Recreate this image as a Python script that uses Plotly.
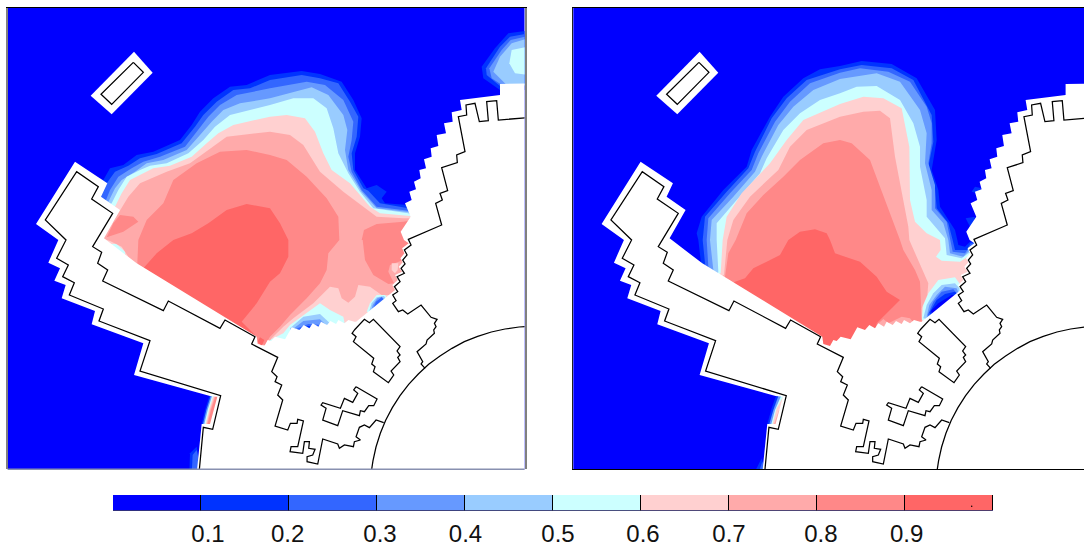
import plotly.graph_objects as go

def at(ox, oy, pts):
    return [(x / 3 + ox, y / 3 + oy) for x, y in pts]
def z1(p): return at(0, 0, p)
def z2(p): return at(270, 0, p)
def z3(p): return at(0, 240, p)
def z4(p): return at(270, 240, p)
def z5(p): return at(4.4, 0, p)
def z6(p): return at(254.4, 0, p)
def z7(p): return at(4.4, 240, p)
def z8(p): return at(254.4, 240, p)

# colour scale
BOUNDS = [0.05, 0.15, 0.25, 0.35, 0.45, 0.55, 0.65, 0.75, 0.85, 0.95]
COLORS = ["#0000FF", "#0033FF", "#3366FF", "#6699FF", "#99CCFF", "#CCFFFF", "#FFD0D0", "#FFAAAA", "#FF8888", "#FF6666"]
TICK_TEXT = ["0.1", "0.2", "0.3", "0.4", "0.5", "0.6", "0.7", "0.8", "0.9"]
TICK_POS = [0.108, 0.1985, 0.3034, 0.4006, 0.5057, 0.6023, 0.700, 0.8045, 0.9019]

UNDER_L = [(420, 240), (400, 300), (365, 335), (262, 352), (130, 272), (100, 250), (95, 215)]
UNDER_R = [(400, 300), (365, 335), (262, 352), (170, 300)]

# ---- left panel contours
L1 = z1([(290,530),(310,540),(330,505),(370,495),(410,465),(460,455),(540,420),(575,375),(600,335),(640,295),(690,260),(740,255),(810,225)]) + z2([(95,213),(150,222),(215,245),(250,300),(275,355),(270,410),(255,460),(255,510),(290,565),(320,555),(350,575),(335,595),(345,610),(415,615),(432,630)]) + UNDER_L
L2 = z1([(295,590),(320,550),(345,515),(385,497),(420,475),(470,462),(545,430),(585,380),(610,345),(650,305),(700,270),(750,265),(810,240)]) + z2([(95,225),(150,235),(205,250),(240,305),(265,350),(260,410),(245,460),(250,510),(280,565),(295,572),(330,610),(415,625),(432,635)]) + UNDER_L
L3 = z1([(300,605),(318,600),(330,570),(355,530),(395,505),(430,485),(480,470),(555,440),(590,395),(625,350),(660,315),(710,285),(810,265)]) + z2([(110,245),(165,255),(220,300),(250,365),(245,420),(235,470),(245,515),(275,570),(320,620),(415,632),(432,640)]) + UNDER_L
L4 = z1([(310,610),(325,605),(345,565),(365,540),(405,515),(440,490),(490,480),(560,450),(600,405),(635,365),(670,330),(720,310),(810,295)]) + z2([(125,262),(175,285),(220,345),(232,390),(225,450),(235,510),(275,575),(320,625),(415,636),(432,645)]) + UNDER_L
L5 = z1([(320,620),(335,610),(355,570),(380,530),(420,510),(450,497),(500,490),(565,460),(610,420),(645,380),(690,345),(810,315)]) + z2([(70,295),(130,295),(170,325),(190,385),(205,460),(235,520),(270,575),(310,625),(415,640),(432,650)]) + UNDER_L
L6 = z1([(330,630),(345,620),(365,580),(390,540),(430,520),(460,505),(510,497),(575,470),(620,430),(655,400),(700,375),(810,350)]) + z2([(50,345),(105,355),(135,395),(160,460),(185,510),(240,550),(300,620),(330,640),(420,648),(432,655)]) + UNDER_L
L7 = z1([(355,640),(362,628),(385,590),(420,550),(500,515),(570,490),(625,450),(680,410),(810,395)]) + z2([(60,405),(100,435),(150,515),(220,575),(280,620),(320,650),(400,655),(430,655)]) + z4([(430,30),(400,100),(375,165),(355,165),(335,165),(300,140),(265,135),(255,170),(235,188),(215,175),(205,145),(180,140),(130,190),(70,235),(40,260),(5,295),(-10,315)]) + z3([(700,310),(430,100),(410,75),(385,50),(365,20),(330,3),(305,-5)])
L8 = z3([(412,70),(415,0)]) + z1([(440,660),(490,610),(520,540),(590,490),(660,455),(740,450),(810,465)]) + z2([(50,480),(110,530),(170,595),(205,650),(208,720)]) + z4([(175,40),(170,90),(150,130),(110,175),(60,225),(30,260),(0,290),(-15,315)]) + z3([(700,300),(430,100)])
L8_PATCH_A = z1([(340,670),(360,645),(400,650),(415,665),(370,695),(320,712)])
L8_PATCH_B = z2([(275,720),(282,690),(320,672),(400,665),(430,660),(430,720)]) + z4([(430,30),(400,60),(380,68),(360,75),(355,95),(372,130),(355,132),(310,105),(285,60),(278,0)])
L9 = z3([(430,85),(470,40),(520,0)]) + z1([(575,700),(625,670),(680,630),(740,612),(810,625)]) + z2([(30,670),(55,720)]) + z4([(55,50),(30,100),(0,125)]) + z3([(770,190),(725,245),(765,285),(775,320),(430,110)])
L9_TIP = z3([(772,305),(780,292),(793,300),(785,318)])
L_CORNER_1 = z2([(775,92),(715,100),(675,145),(635,200),(640,235),(690,270),(775,270)])
L_CORNER_2 = z2([(775,100),(720,110),(690,140),(648,205),(650,225),(690,258),(775,258)])
L_CORNER_3 = z2([(775,108),(722,120),(695,150),(658,205),(665,235),(700,258),(775,258)])
L_CORNER_4 = z2([(775,115),(725,130),(690,170),(670,215),(710,255),(775,255)])
L_CORNER_5 = z2([(775,140),(725,150),(718,190),(735,220),(775,225)])
L_HOLE_B5 = z4([(0,300),(40,280),(60,255),(100,225),(150,190),(180,210),(220,230),(225,255),(200,280),(0,320)])
L_HOLE_B4 = z4([(60,265),(100,230),(150,222),(180,250),(175,275),(60,285)])
L_HOLE_B3 = z4([(72,265),(100,243),(150,238),(168,255),(165,275),(72,285)])
L_HOLE_B2 = z4([(82,265),(115,252),(155,255),(160,275),(80,285)])
L_HOLE_B1 = z4([(90,265),(115,258),(145,260),(150,275),(90,285)])
L_HOLE_R5 = z4([(345,165),(320,165),(300,190),(290,215),(320,220),(355,180)])
L_HOLE_R4 = z4([(342,168),(320,172),(305,190),(298,212),(320,215),(350,180)])
L_HOLE_R3 = z4([(335,170),(322,175),(308,195),(305,208),(345,180)])
L_HOLE_R2 = z4([(335,172),(318,185),(310,203),(340,178)])
L_HOLE_W = z3([(315,12),(350,12),(375,35),(375,55),(340,40)])
L_PINK = z4([(365,70),(385,70),(383,90),(375,100),(365,90)])
L_STRIP_1 = z3([(628,468),(615,510),(605,552),(660,565),(670,468)])
L_STRIP_3 = z3([(632,468),(619,510),(609,552),(660,565),(670,468)])
L_STRIP_5 = z3([(636,468),(623,510),(613,552),(660,565),(670,468)])
L_STRIP_6 = z3([(640,468),(627,510),(617,552),(660,565),(670,468)])
L_STRIP_7 = z3([(643,470),(630,510),(620,552),(660,565),(670,468)])
L_STRIP_8 = z3([(646,470),(633,510),(623,552),(660,565),(670,468)])
L_FOOT_1 = z3([(568,700),(570,640),(590,620),(605,700)])
L_FOOT_2 = z3([(575,700),(578,645),(590,630),(605,700)])

# ---- right panel contours
R1 = z7([(392,85),(393,70),(385,0)]) + z5([(380,700),(395,650),(460,570),(530,500),(545,450),(600,350),(640,290),(700,235),(750,208),(810,198)]) + z6([(125,183),(215,192),(290,235),(345,330),(350,420),(335,510),(355,570),(360,620),(405,690),(412,720)]) + z8([(415,15),(435,20),(450,5),(480,5)]) + UNDER_R
R2 = z7([(400,85),(405,70),(398,0)]) + z5([(405,650),(470,575),(535,505),(555,455),(605,355),(650,295),(710,240),(810,208)]) + z6([(125,195),(215,205),(280,240),(335,345),(340,425),(325,500),(345,565),(350,625),(385,670),(398,720)]) + z8([(405,30),(440,30),(452,10),(478,10)]) + UNDER_R
R3 = z7([(410,95),(415,80),(410,0)]) + z5([(415,655),(480,580),(545,510),(565,460),(615,365),(660,305),(720,250),(810,218)]) + z6([(120,205),(205,215),(270,245),(320,320),(335,370),(335,430),(325,490),(345,555),(345,625),(380,665),(392,720)]) + z8([(398,35),(435,40),(450,20),(478,15)]) + UNDER_R
R4 = z7([(425,105),(430,90),(420,0)]) + z5([(425,660),(490,590),(555,515),(575,470),(625,375),(670,320),(730,270),(810,237)]) + z6([(170,220),(240,245),(300,330),(320,400),(315,490),(335,570),(335,630),(370,670),(385,720)]) + z8([(390,40),(430,50),(450,30),(475,25)]) + UNDER_R
R5 = z7([(440,115),(445,95),(440,0)]) + z5([(440,670),(500,600),(570,520),(590,475),(640,390),(690,340),(750,300),(810,280)]) + z6([(110,260),(170,258),(240,300),(280,370),(300,440),(300,500),(320,600),(320,650),(375,715)]) + z8([(380,45),(425,55),(445,40),(470,30)]) + UNDER_R
R6 = z7([(430,110),(452,100),(458,0)]) + z5([(470,650),(515,580),(600,490),(650,420),(700,360),(810,312)]) + z6([(130,290),(190,295),(245,325),(268,440),(270,600),(285,665),(320,700),(360,720)]) + z8([(362,30),(348,50),(365,62),(420,65),(443,50),(475,60)]) + UNDER_R
R7 = z7([(445,115),(462,105),(472,0)]) + z5([(490,660),(540,590),(625,510),(660,440),(710,390),(810,350)]) + z6([(130,335),(180,332),(210,355),(225,470),(240,550),(265,680),(268,720)]) + z8([(300,70),(325,130),(322,165),(305,205),(303,240),(305,290)]) + z7([(760,335)])
R8 = z7([(455,125),(465,110),(475,40),(497,0)]) + z5([(530,640),(580,585),(640,530),(690,480),(760,430),(810,420)]) + z6([(95,430),(150,480),(180,560),(215,650),(240,720)]) + z8([(250,30),(285,90),(300,125),(305,235),(310,290)]) + z7([(760,330)])
R9 = z7([(480,140),(495,125),(525,115),(550,85),(590,65),(630,45),(655,0)]) + z5([(690,695),(735,688),(770,700),(780,720)]) + z8([(45,40),(120,65),(170,110),(200,155),(240,180),(170,250),(170,290)]) + z7([(760,325)])
R_TEETH = z8([(170,255),(190,237),(205,250),(225,240),(245,230),(270,235),(285,255),(170,275)])
R_HOLE_5 = z8([(305,240),(310,195),(325,160),(355,120),(405,112),(418,130),(425,160),(350,250)])
R_HOLE_4 = z8([(310,235),(320,195),(340,160),(365,135),(405,130),(418,145),(420,170),(340,240)])
R_HOLE_3 = z8([(320,230),(328,195),(350,165),(375,140),(410,145),(420,170),(340,240)])
R_HOLE_2 = z8([(323,225),(340,185),(365,155),(400,148),(415,165),(340,240)])
R_HOLE_1 = z8([(328,218),(350,180),(375,162),(405,155),(415,165),(340,235)])
R_HOLE_0 = z8([(333,212),(355,190),(395,165),(405,165),(340,230)])
R_BUMP_A = z6([(455,575),(465,560),(485,565),(470,580)])
R_BUMP_B = z6([(437,655),(465,650),(455,690)])
R_STRIP_1 = z7([(618,468),(605,505),(592,552),(640,565),(660,468)])
R_STRIP_3 = z7([(625,468),(610,510),(598,552),(640,565),(660,468)])
R_STRIP_5 = z7([(633,468),(615,510),(604,552),(640,565),(660,468)])
R_STRIP_6 = z7([(640,470),(620,505),(608,552),(640,565),(660,468)])
R_STRIP_7 = z7([(627,510),(612,552),(640,565),(640,510)])
R_FOOT_1 = z7([(552,700),(575,655),(590,700)])
R_FOOT_2 = z7([(565,700),(577,665),(590,700)])

# ---- white region and walls
MASK = z3([(590,700),(605,552),(630,552),(652,470),(630,468),(402,405),(430,310),(275,253),(285,213),(185,175),(197,135),(163,122),(180,85),(145,68),(175,0)]) \
    + z1([(108,672),(225,485),(322,550),(303,590),(360,630),(312,715)]) + z3([(410,70),(770,290)]) \
    + z7([(760,312),(780,318),(790,300)]) \
    + z8([(50,303),(62,290),(92,298),(112,262),(135,270),(148,255),(165,265),(175,250),(192,260),(200,245),(218,255),(228,243),(245,252),(252,240),(270,250),(282,240),(300,245),(305,245),(410,160),(422,150),(414,135),(430,120),(422,105),(443,95),(433,80),(445,67),(438,55),(450,40),(443,25),(463,10)]) \
    + z2([(402,720),(392,695),(422,650),(405,610),(425,600),(418,575),(438,568),(432,545),(452,535),(448,510),(468,505),(462,478),(485,470),(482,445),(505,438),(500,405),(528,400),(522,370),(548,365),(545,337),(575,330),(570,300),(690,285),(690,252),(800,250)]) \
    + [(540, 83), (540, 480), (196, 480)]
MASK_RECT = z1([(402,155),(458,218),(335,343),(272,287)])
WALL_RECT = z1([(400,187),(430,217),(335,313),(303,283),(400,187)])
WALL_MAIN = z3([(597,700),(610,562),(638,568),(662,467),(420,393),(450,302),(297,243),(310,207),(208,165),(223,128),(188,110),(205,75),(170,55),(198,0)]) \
    + z1([(136,660),(230,515),(295,560),(275,597),(338,640),(290,720)]) \
    + z3([(278,20),(305,37),(293,70),(323,90),(308,123),(490,212),(505,183),(660,265),(675,240),(765,290),(755,312)]) \
    + z8([(70,352),(52,395),(68,410),(62,425),(82,435),(70,465),(85,480),(62,558),(100,570),(108,550),(128,550),(130,538),(147,543),(130,620),(110,620),(107,635),(145,640),(150,605),(165,605),(163,625),(182,628),(175,645),(158,650),(158,665),(190,672),(205,597),(250,612),(255,625),(270,615),(297,620),(300,605),(318,600),(305,590),(315,562),(330,555),(345,563),(365,540),(388,548)])
WALL_RIGHT = z8([(512,385),(500,372),(505,365),(488,335),(515,312),(518,300),(540,280),(538,270),(545,260),(540,250),(548,238),(530,232),(500,195),(460,222),(445,210),(432,215),(415,190),(425,182),(415,165),(430,155),(420,140),(437,125),(428,110),(450,100),(440,85),(452,72),(445,60),(458,45),(450,30),(470,15)]) \
    + z2([(415,718),(515,675),(497,610),(517,600),(510,580),(533,572),(515,503),(562,488),(560,465),(585,455),(565,350),(590,345),(588,315),(615,310),(628,365),(655,362),(650,305),(680,302),(685,360),(775,353)])
BLOCK_A = z8([(300,270),(330,238),(345,248),(357,238),(437,320),(428,333),(437,345),(430,352),(437,365),(410,393),(418,405),(402,428),(357,395),(362,380),(352,372),(358,355),(297,305),(305,290),(293,280),(300,270)])
BLOCK_B = z8([(305,440),(368,477),(358,497),(343,497),(330,515),(318,512),(315,527),(265,512),(250,557),(205,540),(215,505),(200,495),(205,488),(258,505),(270,475),(295,487),(310,460),(298,450),(305,440)])
ARC = z4([(305,700),(305,688),(309,662),(318,621),(331,580),(347,541),(367,503),(390,467),(416,433),(445,402),(476,373),(510,348),(546,325),(583,305),(623,289),(664,276),(705,267),(747,261),(790,258)])
WALLS = [WALL_RECT, WALL_MAIN, WALL_RIGHT, BLOCK_A, BLOCK_B, ARC]

LEFT_LAYERS = [(1,L1),(2,L2),(3,L3),(4,L4),(5,L5),(6,L6),
    (1,L_CORNER_1),(2,L_CORNER_2),(3,L_CORNER_3),(4,L_CORNER_4),(5,L_CORNER_5),
    (1,L_STRIP_1),(3,L_STRIP_3),(5,L_STRIP_5),(6,L_STRIP_6),(7,L_STRIP_7),(8,L_STRIP_8),
    (1,L_FOOT_1),(2,L_FOOT_2),
    (5,L_HOLE_B5),(4,L_HOLE_B4),(3,L_HOLE_B3),(2,L_HOLE_B2),(1,L_HOLE_B1),
    (5,L_HOLE_R5),(4,L_HOLE_R4),(3,L_HOLE_R3),(2,L_HOLE_R2),(5,L_HOLE_W),
    (7,L7),(8,L8),(8,L8_PATCH_A),(8,L8_PATCH_B),(9,L9),(9,L9_TIP),(6,L_PINK)]
RIGHT_LAYERS = [(1,R1),(2,R2),(3,R3),(4,R4),(5,R5),(6,R6),
    (1,R_BUMP_A),(1,R_BUMP_B),
    (1,R_STRIP_1),(3,R_STRIP_3),(5,R_STRIP_5),(6,R_STRIP_6),(7,R_STRIP_7),
    (1,R_FOOT_1),(2,R_FOOT_2),
    (5,R_HOLE_5),(4,R_HOLE_4),(3,R_HOLE_3),(2,R_HOLE_2),(1,R_HOLE_1),(0,R_HOLE_0),
    (7,R7),(8,R8),(9,R9),(7,R_TEETH)]

fig = go.Figure()

def poly(pts, color, xa, ya):
    fig.add_trace(go.Scatter(x=[p[0] for p in pts], y=[p[1] for p in pts], mode="lines", fill="toself",
                             fillcolor=color, line=dict(width=0, color=color), hoverinfo="skip",
                             showlegend=False, xaxis=xa, yaxis=ya))

def panel(layers, xa, ya):
    for idx, pts in layers:
        poly(pts, COLORS[idx], xa, ya)
    poly(MASK, "#FFFFFF", xa, ya)
    poly(MASK_RECT, "#FFFFFF", xa, ya)
    for w in WALLS:
        fig.add_trace(go.Scatter(x=[p[0] for p in w], y=[p[1] for p in w], mode="lines",
                                 line=dict(width=1.25, color="#000000"), hoverinfo="skip",
                                 showlegend=False, xaxis=xa, yaxis=ya))

panel(LEFT_LAYERS, "x", "y")
panel(RIGHT_LAYERS, "x2", "y2")

fig.add_trace(go.Bar(x=BOUNDS, y=[1] * len(BOUNDS), width=0.1, marker=dict(color=COLORS, line=dict(color="#000000", width=1)),
                     hoverinfo="skip", showlegend=False, xaxis="x3", yaxis="y3"))
fig.add_trace(go.Scatter(x=[0.9758], y=[0.27], mode="markers", marker=dict(size=1.5, color="#000000"),
                         hoverinfo="skip", showlegend=False, xaxis="x3", yaxis="y3"))

W, H = 1084, 548
top, bottom = 8.0, 469.3
hidden = dict(showgrid=False, zeroline=False, showticklabels=False, ticks="")
fig.update_layout(
    width=W, height=H, margin=dict(l=0, r=0, t=0, b=0), paper_bgcolor="#FFFFFF", plot_bgcolor="#0000FF",
    bargap=0,
    font=dict(family="Liberation Sans, Arial, sans-serif", color="#111111"),
    xaxis=dict(domain=[7.7 / W, 524.5 / W], range=[7.7, 524.5], anchor="y", side="top", showline=True, linecolor="#000000", linewidth=1, **hidden),
    yaxis=dict(domain=[1 - bottom / H, 1 - top / H], range=[bottom, top], anchor="x", showline=True, mirror=True, linecolor="#808080", linewidth=1.5, **hidden),
    xaxis2=dict(domain=[573.3 / W, 1], range=[7.7, 518.4], anchor="y2", showline=True, mirror=True, linecolor="#000000", linewidth=1, **hidden),
    yaxis2=dict(domain=[1 - bottom / H, 1 - top / H], range=[bottom, top], anchor="x2", showline=True, linecolor="#222222", linewidth=1, **hidden),
    xaxis3=dict(domain=[113 / W, 993 / W], range=[0, 1], anchor="y3", showgrid=False, zeroline=False, ticks="",
                tickmode="array", tickvals=TICK_POS, ticktext=TICK_TEXT, tickangle=0, ticklabelstandoff=6,
                tickfont=dict(size=24, color="#111111", family="Liberation Sans, Arial, sans-serif")),
    yaxis3=dict(domain=[1 - 510.5 / H, 1 - 495 / H], range=[0, 1], anchor="x3", **hidden),
    shapes=[dict(type="line", xref="x domain", yref="y domain", x0=0, x1=1, y0=0, y1=0, line=dict(color="#8890B0", width=1.5))],
)
fig.write_html("out.html", post_script="document.body.style.margin='0';", config={"displayModeBar": False})
